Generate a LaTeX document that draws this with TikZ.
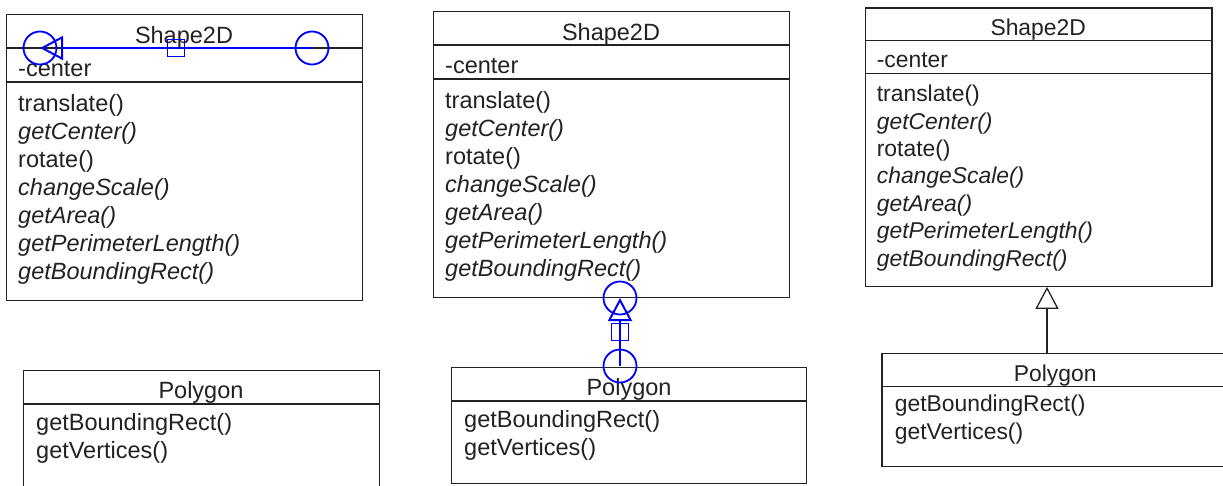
\documentclass[tikz,border=0pt]{standalone}
\usepackage{fontspec}
\setmainfont{Liberation Sans}
\usetikzlibrary{arrows.meta,calc}
\definecolor{ink}{HTML}{222222}
\definecolor{conn}{RGB}{0,0,255}
\tikzset{
 classbox/.style={draw=ink, line width=1.3pt, rectangle, inner sep=0pt, anchor=north west},
 openbox/.style={draw=none, rectangle, inner sep=0pt, anchor=north west},
 divider/.style={draw=ink, line width=1.3pt},
 txt/.style={text=ink, inner sep=0pt, font=\fontsize{23.5}{28}\selectfont},
 classname/.style={txt, anchor=base},
 member/.style={txt, anchor=base west},
 abstract/.style={member, font=\fontsize{23.5}{28}\selectfont\itshape},
 handle/.style={draw=conn, line width=1.8pt, circle, inner sep=0pt, minimum size=33pt},
 midhandle/.style={draw=conn, line width=1.8pt, rectangle, inner sep=0pt, minimum size=17pt},
 selconn/.style={draw=conn, line width=2pt, -{Triangle[open,length=23pt,width=24pt]}},
 gen/.style={draw=ink, line width=1.3pt, -{Triangle[open,length=22pt,width=23pt]}},
}
\newcommand{\shapeclass}[1]{%
 \node[classbox, minimum width=356pt, minimum height=286pt] (#1) at (0,0) {};
 \draw[divider] (0,34) -- (356,34);
 \draw[divider] (0,68) -- (356,68);
 \node[classname] (#1-name) at (178,29) {Shape2D};
 \node[member] (#1-a) at (12,62) {-center};
 \node[member] (#1-m1) at (12,97) {translate()};
 \node[abstract] (#1-m2) at (12,125.15) {getCenter()};
 \node[member] (#1-m3) at (12,153.3) {rotate()};
 \node[abstract] (#1-m4) at (12,181.45) {changeScale()};
 \node[abstract] (#1-m5) at (12,209.6) {getArea()};
 \node[abstract] (#1-m6) at (12,237.75) {getPerimeterLength()};
 \node[abstract] (#1-m7) at (12,265.9) {getBoundingRect()};
}
\newcommand{\polytext}[1]{%
 \node[classname] (#1-name) at (178,28.5) {Polygon};
 \node[member] (#1-m1) at (13,60) {getBoundingRect()};
 \node[member] (#1-m2) at (13,88) {getVertices()};
}
\begin{document}
\begin{tikzpicture}[x=1pt, y=-1pt]
\useasboundingbox (0,0) rectangle (1223,485);
\fill[white] (0,0) rectangle (1223,485);

% left diagram
\begin{scope}[shift={(6,14)}]
 \shapeclass{sA}
\end{scope}
\begin{scope}[shift={(23,370)}]
 \node[classbox, minimum width=356pt, minimum height=116pt] (pA) at (0,0) {};
 \draw[divider] (0,34) -- (356,34);
 \polytext{pA}
\end{scope}
\coordinate (eA1) at (40,48);
\coordinate (eA2) at (312,48);
\draw[selconn] (eA2) -- (eA1);
\node[handle] (hA1) at (eA1) {};
\node[handle] (hA2) at (eA2) {};
\node[midhandle] (qA) at ($(eA1)!0.5!(eA2)$) {};

% middle diagram
\begin{scope}[shift={(433,11)}]
 \shapeclass{sB}
\end{scope}
\begin{scope}[shift={(451,367)}]
 \node[classbox, minimum width=355pt, minimum height=116pt] (pB) at (0,0) {};
 \draw[divider] (0,34) -- (355,34);
 \polytext{pB}
\end{scope}
\coordinate (eB1) at (620,298);
\coordinate (eB2) at (620,366);
\draw[selconn] (eB2) -- (eB1);
\node[handle] (hB1) at (eB1) {};
\node[handle] (hB2) at (eB2) {};
\node[midhandle] (qB) at ($(eB1)!0.5!(eB2)$) {};

% right diagram
\begin{scope}[shift={(865,7.3)}, scale=0.973, transform shape]
 \shapeclass{sC}
\end{scope}
\begin{scope}[shift={(882,353.5)}, scale=0.973, transform shape]
 \node[openbox, minimum width=349pt, minimum height=116pt] (pC) at (0,0) {};
 \draw[divider] (350.5,0) -- (0,0) -- (0,116) -- (350.5,116);
 \draw[divider] (0,34) -- (350.5,34);
 \polytext{pC}
\end{scope}
\coordinate (gx) at (1047,0);
\draw[gen] (pC.north -| gx) -- (sC.south -| gx);
\end{tikzpicture}
\end{document}
